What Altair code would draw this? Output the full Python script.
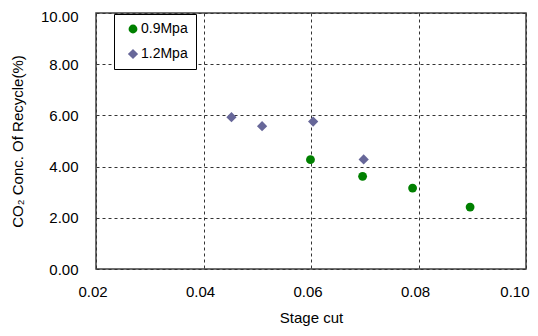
import altair as alt
import pandas as pd

series_09_x = [0.0599, 0.0696, 0.0789, 0.0896]
series_09_y = [4.27, 3.62, 3.16, 2.42]
series_12_x = [0.0452, 0.0509, 0.0604, 0.0698]
series_12_y = [5.93, 5.58, 5.76, 4.28]
series_names = ["0.9Mpa", "1.2Mpa"]
x_ticks = [0.02, 0.04, 0.06, 0.08, 0.10]
y_ticks = [0, 2, 4, 6, 8, 10]

df = pd.DataFrame(
    [{"x": x, "y": y, "s": series_names[0]} for x, y in zip(series_09_x, series_09_y)]
    + [{"x": x, "y": y, "s": series_names[1]} for x, y in zip(series_12_x, series_12_y)]
)

FONT = "Liberation Sans"
last_x = "datum.value >= 0.099"
top_y = "datum.value >= 9.9"

chart = alt.Chart(df).mark_point(filled=True, opacity=1).encode(
    x=alt.X("x:Q", title="Stage cut",
            scale=alt.Scale(domain=[0.02, 0.10], nice=False, zero=False),
            axis=alt.Axis(values=x_ticks, format=".2f",
                          labelFlush=False, labelOverlap=False,
                          labelAlign={"condition": {"test": last_x, "value": "right"}, "value": "center"},
                          labelOffset={"condition": {"test": last_x, "value": 3}, "value": -3.5},
                          labelPadding=15, titlePadding=11)),
    y=alt.Y("y:Q", title="CO₂ Conc. Of Recycle(%)",
            scale=alt.Scale(domain=[0, 10], nice=False),
            axis=alt.Axis(values=y_ticks, format=".2f",
                          labelFlush=False, labelOverlap=False,
                          labelOffset={"condition": {"test": top_y, "value": 3.5}, "value": 0},
                          labelPadding=18, titlePadding=15)),
    color=alt.Color("s:N", scale=alt.Scale(domain=series_names, range=["#008000", "#676799"]),
                    legend=alt.Legend(title=None, orient="none", legendX=18, legendY=1,
                                      strokeColor="#000000", padding=8, rowPadding=11,
                                      symbolOffset=4, labelOffset=1,
                                      labelFontSize=14, labelFont=FONT,
                                      labelColor="#000000", fillColor="white",
                                      symbolSize=85)),
    shape=alt.Shape("s:N", scale=alt.Scale(domain=series_names, range=["circle", "diamond"]),
                    legend=None),
    size=alt.Size("s:N", scale=alt.Scale(domain=series_names, range=[78, 105]), legend=None),
).properties(
    width=430, height=256,
    autosize=alt.AutoSizeParams(type="none"),
    padding={"left": 88, "top": 5, "right": 4, "bottom": 59},
).configure_view(
    stroke="#404040", strokeWidth=1.5
).configure_axis(
    grid=True, gridColor="#333333", gridDash=[3, 3], gridWidth=1,
    domain=False, ticks=False,
    labelFont=FONT, labelFontSize=15, labelColor="#000000",
    titleFont=FONT, titleFontSize=15, titleFontWeight="normal", titleColor="#000000",
)

chart.save("out.html", embed_options={"renderer": "svg", "actions": False})
